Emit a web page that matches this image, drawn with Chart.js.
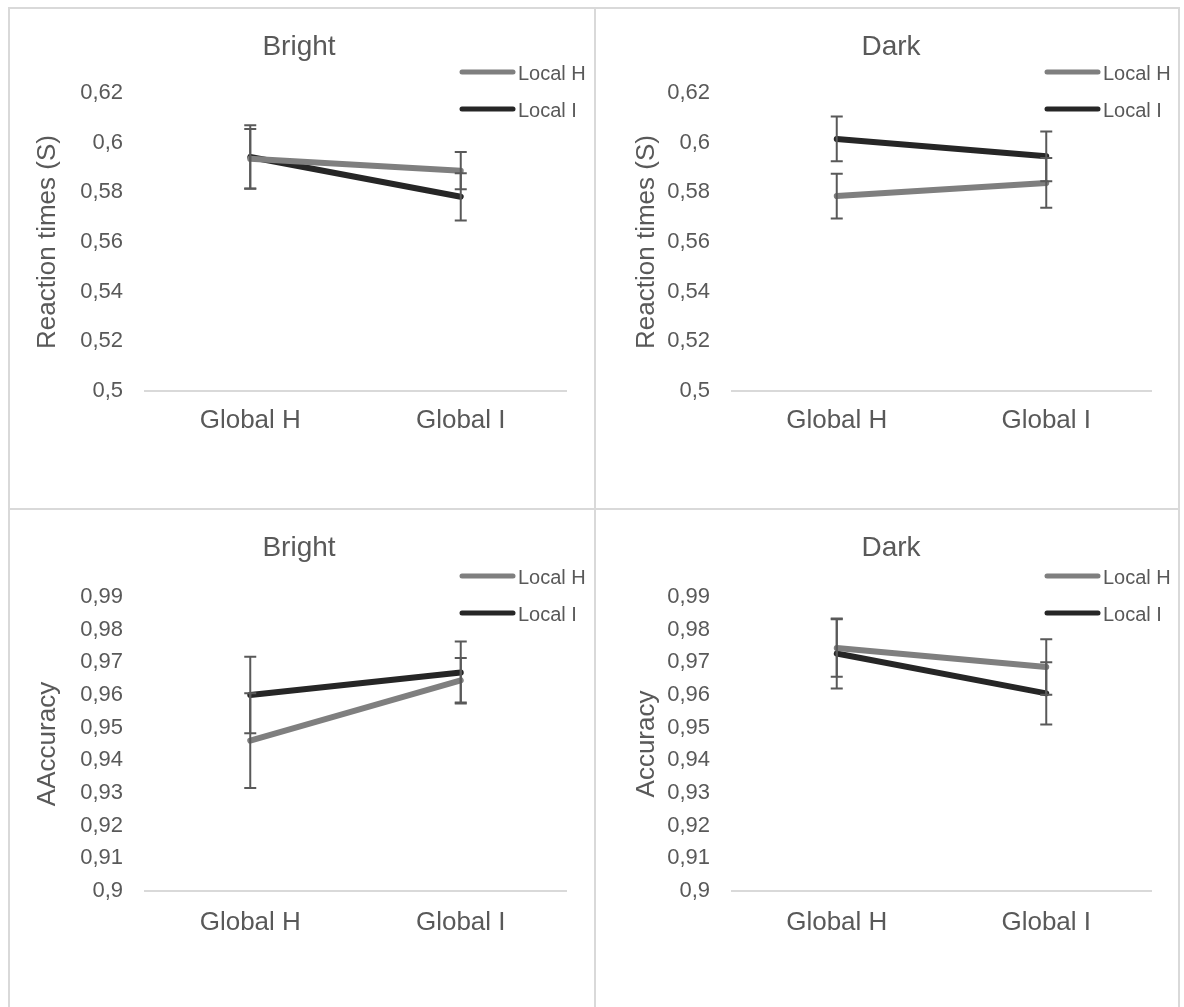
<!DOCTYPE html>
<html>
<head>
<meta charset="utf-8">
<script src="https://cdn.jsdelivr.net/npm/chart.js@4.4.0/dist/chart.umd.min.js"></script>
<style>
  html, body { margin: 0; padding: 0; background: #fff; width: 1184px; height: 1007px; overflow: hidden; }
  .frame { position: absolute; left: 8px; top: 7px; width: 1172px; height: 1100px; border: 2px solid #d9d9d9; box-sizing: border-box; }
  .vline { position: absolute; left: 594px; top: 7px; width: 2px; height: 1100px; background: #d9d9d9; }
  .hline { position: absolute; left: 8px; top: 508px; width: 1172px; height: 2px; background: #d9d9d9; }
  canvas { position: absolute; }
</style>
</head>
<body>
<div class="frame"></div>
<div class="vline"></div>
<div class="hline"></div>
<canvas id="rtBright"></canvas>
<canvas id="rtDark"></canvas>
<canvas id="accBright"></canvas>
<canvas id="accDark"></canvas>
<script>
// Conditions on the x axis and the two local-letter series
const categories = ['Global H', 'Global I'];
const seriesNames = ['Local H', 'Local I'];

// Reaction times (s): means and error half-widths
const rtBrightLocalH = [0.5935, 0.5887];
const rtBrightLocalI = [0.5942, 0.5782];
const rtBrightErrH = [0.0120, 0.0075];
const rtBrightErrI = [0.0128, 0.0095];

const rtDarkLocalH = [0.5785, 0.5838];
const rtDarkLocalI = [0.6015, 0.5945];
const rtDarkErrH = [0.0090, 0.0100];
const rtDarkErrI = [0.0090, 0.0100];

// Accuracy: means and error half-widths
const accBrightLocalH = [0.9460, 0.9645];
const accBrightLocalI = [0.9600, 0.9669];
const accBrightErrH = [0.0145, 0.0068];
const accBrightErrI = [0.0117, 0.0095];

const accDarkLocalH = [0.9744, 0.9686];
const accDarkLocalI = [0.9727, 0.9605];
const accDarkErrH = [0.0088, 0.0085];
const accDarkErrI = [0.0107, 0.0095];

// Axis tick labels (decimal comma), bottom to top
const rtTickLabels = ['0,5', '0,52', '0,54', '0,56', '0,58', '0,6', '0,62'];
const accTickLabels = ['0,9', '0,91', '0,92', '0,93', '0,94', '0,95', '0,96', '0,97', '0,98', '0,99'];

const FONT = "'Liberation Sans', Arial, Helvetica, sans-serif";
const TEXT = '#595959';
const GRAY = '#7f7f7f';
const DARK = '#262626';
Chart.defaults.font.family = FONT;

// Vertical error bars with caps, drawn from each dataset's errorBars array
const errorBarPlugin = {
  id: 'errorBars',
  afterDatasetsDraw(chart, args, opts) {
    const { ctx, scales: { x, y } } = chart;
    ctx.save();
    ctx.strokeStyle = opts.color;
    ctx.lineWidth = opts.width;
    chart.data.datasets.forEach(ds => {
      ds.data.forEach((v, i) => {
        const e = ds.errorBars[i];
        const px = x.getPixelForValue(i);
        const top = y.getPixelForValue(v + e);
        const bot = y.getPixelForValue(v - e);
        ctx.beginPath();
        ctx.moveTo(px, top); ctx.lineTo(px, bot);
        ctx.moveTo(px - opts.cap, top); ctx.lineTo(px + opts.cap, top);
        ctx.moveTo(px - opts.cap, bot); ctx.lineTo(px + opts.cap, bot);
        ctx.stroke();
      });
    });
    ctx.restore();
  }
};

// Legend stacked at the top-right corner of the plot
const sideLegendPlugin = {
  id: 'sideLegend',
  afterDraw(chart, args, opts) {
    const { ctx, chartArea } = chart;
    ctx.save();
    chart.data.datasets.forEach((ds, i) => {
      const y = chartArea.top + opts.rows[i];
      ctx.strokeStyle = ds.borderColor;
      ctx.lineWidth = 5;
      ctx.lineCap = 'round';
      ctx.beginPath();
      ctx.moveTo(chartArea.right + opts.lineStart, y);
      ctx.lineTo(chartArea.right + opts.lineEnd, y);
      ctx.stroke();
      ctx.fillStyle = TEXT;
      ctx.font = opts.fontSize + 'px ' + FONT;
      ctx.textBaseline = 'middle';
      ctx.textAlign = 'left';
      ctx.fillText(ds.label, chartArea.right + opts.textStart, y + opts.textDy);
    });
    ctx.restore();
  }
};

function makePanel(id, box, cfg) {
  const cv = document.getElementById(id);
  cv.width = box.w;
  cv.height = box.h;
  cv.style.left = box.x + 'px';
  cv.style.top = box.y + 'px';
  const lineStyle = { borderWidth: 6, pointRadius: 0, pointHoverRadius: 0, tension: 0, fill: false, borderCapStyle: 'round', borderJoinStyle: 'round' };
  new Chart(cv, {
    type: 'line',
    data: {
      labels: categories,
      datasets: [
        Object.assign({ label: seriesNames[0], data: cfg.h, errorBars: cfg.eh, borderColor: GRAY, backgroundColor: GRAY }, lineStyle),
        Object.assign({ label: seriesNames[1], data: cfg.i, errorBars: cfg.ei, borderColor: DARK, backgroundColor: DARK }, lineStyle)
      ]
    },
    options: {
      responsive: false,
      animation: false,
      devicePixelRatio: 1,
      layout: { padding: { left: 0, right: box.pr, top: 0, bottom: 0 } },
      plugins: {
        legend: { display: false },
        tooltip: { enabled: false },
        title: {
          display: true, text: cfg.title, color: TEXT,
          font: { size: 28, weight: 'normal' },
          padding: { top: box.tTop, bottom: box.tBottom }
        },
        errorBars: { color: '#595959', width: 2, cap: 6 },
        sideLegend: { rows: [-21, 16], lineStart: -104, lineEnd: -53, textStart: -48, textDy: 2, fontSize: 20 }
      },
      scales: {
        x: {
          offset: true,
          grid: { display: false, drawTicks: false },
          border: { display: true, color: '#d9d9d9', width: 2 },
          ticks: { color: TEXT, font: { size: 26 }, padding: box.xPad, maxRotation: 0, autoSkip: false },
          afterFit: s => { s.height = box.xh; }
        },
        y: {
          min: cfg.min, max: cfg.max,
          grid: { display: false, drawTicks: false },
          border: { display: false },
          ticks: {
            stepSize: cfg.step, color: TEXT, font: { size: 22 }, padding: 22, autoSkip: false,
            callback: (v, i) => cfg.tickLabels[i]
          },
          title: { display: true, text: cfg.yTitle, color: TEXT, font: { size: 26 }, padding: { top: 0, bottom: 0 } },
          afterFit: s => { s.width = box.yw; }
        }
      }
    },
    plugins: [errorBarPlugin, sideLegendPlugin]
  });
}

makePanel('rtBright',
  { x: 32, y: 9, w: 562, h: 500, pr: 28, yw: 113, xh: 118, tTop: 21, tBottom: 29.4, xPad: 14 },
  { title: 'Bright', yTitle: 'Reaction times (S)', h: rtBrightLocalH, i: rtBrightLocalI, eh: rtBrightErrH, ei: rtBrightErrI,
    min: 0.5, max: 0.62, step: 0.02, tickLabels: rtTickLabels });

makePanel('rtDark',
  { x: 631, y: 9, w: 548, h: 500, pr: 28, yw: 101, xh: 118, tTop: 21, tBottom: 29.4, xPad: 14 },
  { title: 'Dark', yTitle: 'Reaction times (S)', h: rtDarkLocalH, i: rtDarkLocalI, eh: rtDarkErrH, ei: rtDarkErrI,
    min: 0.5, max: 0.62, step: 0.02, tickLabels: rtTickLabels });

makePanel('accBright',
  { x: 32, y: 511, w: 562, h: 496, pr: 28, yw: 113, xh: 116, tTop: 20, tBottom: 32.4, xPad: 16 },
  { title: 'Bright', yTitle: 'AAccuracy', h: accBrightLocalH, i: accBrightLocalI, eh: accBrightErrH, ei: accBrightErrI,
    min: 0.9, max: 0.99, step: 0.01, tickLabels: accTickLabels });

makePanel('accDark',
  { x: 631, y: 511, w: 548, h: 496, pr: 28, yw: 101, xh: 116, tTop: 20, tBottom: 32.4, xPad: 16 },
  { title: 'Dark', yTitle: 'Accuracy', h: accDarkLocalH, i: accDarkLocalI, eh: accDarkErrH, ei: accDarkErrI,
    min: 0.9, max: 0.99, step: 0.01, tickLabels: accTickLabels });
</script>
</body>
</html>
